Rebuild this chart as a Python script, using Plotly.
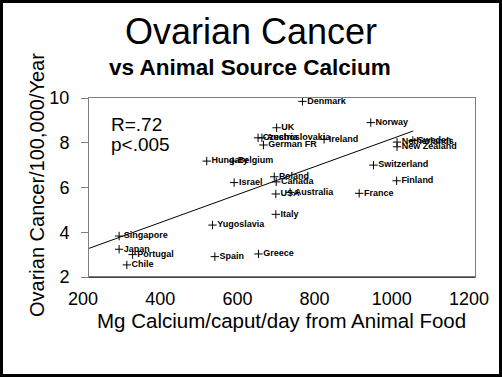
import plotly.graph_objects as go

countries = ["Denmark", "UK", "Czechoslovakia", "Austria", "German FR", "Ireland",
             "Norway", "Netherlands", "Sweden", "New Zealand", "Switzerland", "Finland",
             "Hungary", "Belgium", "Israel", "Poland", "Canada", "USA", "Australia",
             "France", "Italy", "Yugoslavia", "Singapore", "Japan", "Portugal", "Chile",
             "Spain", "Greece"]
calcium = [753, 686, 638, 648, 652, 809,
           930, 998, 1039, 998, 937, 997,
           505, 573, 576, 680, 685, 684, 721,
           900, 684, 520, 278, 278, 313, 298,
           526, 639]
ovarian = [9.85, 8.67, 8.22, 8.22, 7.9, 8.15,
           8.9, 8.03, 8.1, 7.82, 7.0, 6.3,
           7.18, 7.18, 6.22, 6.48, 6.25, 5.71, 5.78,
           5.74, 4.8, 4.32, 3.83, 3.24, 3.0, 2.54,
           2.91, 3.03]

fit_x = [200, 1040]
fit_y = [3.28, 8.525]

x_ticks = [200, 400, 600, 800, 1000, 1200]
y_ticks = [2, 4, 6, 8, 10]

FONT = "Liberation Sans, Arial, sans-serif"
W, H = 502, 377
L, R, T, B = 89, 27, 98, 100
PW, PH = W - L - R, H - T - B


def px(xp):
    return (xp - L) / PW


def py(yp):
    return (H - B - yp) / PH


fig = go.Figure()
fig.add_trace(go.Scatter(x=fit_x, y=fit_y, mode="lines",
                         line=dict(color="black", width=1), hoverinfo="skip",
                         showlegend=False))
fig.add_trace(go.Scatter(
    x=calcium, y=ovarian, mode="markers+text", text=countries,
    textposition="middle right",
    textfont=dict(family=FONT, size=9, color="black", weight="bold"),
    marker=dict(symbol="cross-thin", size=6, line=dict(color="black", width=1)),
    showlegend=False))

fig.update_layout(
    width=W, height=H,
    margin=dict(l=L, r=R, t=T, b=B, pad=0),
    paper_bgcolor="white", plot_bgcolor="white",
    font=dict(family=FONT, color="black"),
    xaxis=dict(range=[200, 1200], tickvals=x_ticks, ticktext=[str(v) for v in x_ticks],
               showgrid=False, zeroline=False, showline=True, linecolor="#808080",
               linewidth=1, mirror=True, ticks="", tickfont=dict(size=18),
               ticklabelstandoff=5, ticklabelshift=-6),
    yaxis=dict(range=[2, 10], tickvals=y_ticks, ticktext=[str(v) for v in y_ticks],
               showgrid=False, zeroline=False, showline=True, linecolor="#808080",
               linewidth=1, mirror=True, ticks="outside", ticklen=7, tickcolor="#808080",
               tickfont=dict(size=18), ticklabelstandoff=8),
    shapes=[
        dict(type="line", xref="paper", yref="paper", x0=0, x1=1, y0=0, y1=0,
             line=dict(color="black", width=1)),
        dict(type="rect", xref="paper", yref="paper",
             x0=px(1.5), x1=px(W - 1.5), y0=py(H - 1.5), y1=py(1.5),
             line=dict(color="black", width=3)),
    ],
    annotations=[
        dict(text="Ovarian Cancer", x=px(251), y=py(31), xref="paper", yref="paper",
             xanchor="center", yanchor="middle", showarrow=False,
             font=dict(size=36)),
        dict(text="<b>vs Animal Source Calcium</b>", x=px(250), y=py(67), xref="paper",
             yref="paper", xanchor="center", yanchor="middle", showarrow=False,
             font=dict(size=22.5)),
        dict(text="R=.72", x=px(109), y=py(124), xref="paper", yref="paper",
             xanchor="left", yanchor="middle", showarrow=False, font=dict(size=19)),
        dict(text="p<.005", x=px(109), y=py(144), xref="paper", yref="paper",
             xanchor="left", yanchor="middle", showarrow=False, font=dict(size=19)),
        dict(text="Mg Calcium/caput/day from Animal Food", x=px(281), y=py(320),
             xref="paper", yref="paper", xanchor="center", yanchor="middle",
             showarrow=False, font=dict(size=20.5)),
        dict(text="Ovarian Cancer/100,000/Year", x=px(37), y=py(185), xref="paper",
             yref="paper", xanchor="center", yanchor="middle", textangle=-90,
             showarrow=False, font=dict(size=20)),
    ],
)

fig.write_html("out.html", config={"displayModeBar": False},
               post_script="document.body.style.margin='0';document.body.style.overflow='hidden';")
